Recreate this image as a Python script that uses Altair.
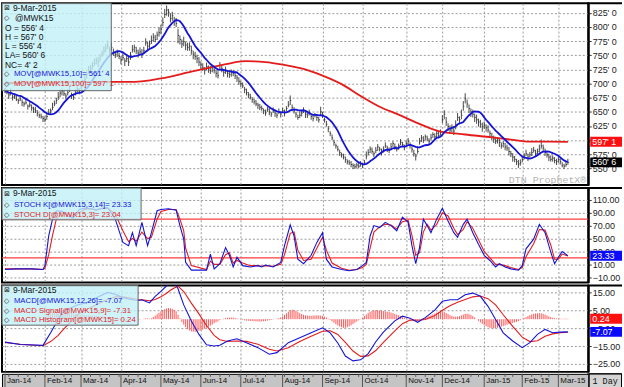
import altair as alt
import pandas as pd

FONT = "Liberation Sans"
MONO = "Liberation Mono"

# ---------------- trading calendar ----------------
holidays = ["2014-01-20", "2014-02-17", "2014-04-18", "2014-05-26", "2014-07-04",
            "2014-09-01", "2014-11-27", "2014-12-25", "2015-01-01", "2015-01-19",
            "2015-02-16"]
dates = [d for d in pd.bdate_range("2014-01-02", "2015-03-09")
         if d.strftime("%Y-%m-%d") not in holidays]

month_labels = ["Jan-14", "Feb-14", "Mar-14", "Apr-14", "May-14", "Jun-14", "Jul-14",
                "Aug-14", "Sep-14", "Oct-14", "Nov-14", "Dec-14", "Jan-15", "Feb-15",
                "Mar-15"]

# ---------------- daily price bars (cents/bu) ----------------
close = [
    688, 684, 680, 683, 676, 678, 672, 670, 673, 667, 664, 666, 660, 662, 657, 655, 652, 648, 644, 641, 638,
    636, 642, 648, 652, 658, 664, 670, 676, 683, 687, 682, 678, 684, 688, 680, 676, 683, 690, 686,
    694, 700, 708, 716, 722, 727, 731, 736, 741, 738, 745, 752, 758, 763, 767, 760, 764, 756, 751, 755, 748,
    742, 746, 740, 744, 738, 750, 760, 764, 758, 754, 756, 752, 758, 772, 766, 770, 776, 782, 778, 786, 790,
    796, 808, 822, 830, 826, 815, 820, 810, 806, 785, 778, 770, 774, 768, 764, 766, 758, 752, 748, 744, 738,
    733, 728, 724, 730, 726, 722, 728, 724, 718, 714, 732, 726, 720, 722, 718, 716, 720, 718, 714, 710, 704,
    700, 696, 690, 684, 680, 676, 672, 668, 664, 662, 658, 656, 652, 648, 654, 650, 646, 652, 648, 644, 650, 646,
    652, 648, 656, 662, 670, 658, 652, 646, 640, 644, 648, 652, 646, 644, 648, 642, 638, 644, 640, 636, 650,
    645, 636, 628, 620, 612, 604, 596, 590, 584, 578, 574, 570, 566, 562, 560, 557, 555, 553, 556, 554, 558,
    556, 560, 572, 578, 584, 580, 576, 582, 588, 584, 578, 584, 590, 586, 582, 588, 594, 588, 584, 590, 596, 592, 588,
    594, 598, 592, 584, 576, 572, 580, 598, 604, 600, 606, 602, 598, 604, 610, 606, 612, 608, 614,
    636, 646, 632, 624, 618, 622, 616, 628, 640, 636, 644, 660, 674, 664, 656, 650, 646, 640, 636, 632, 628, 624,
    626, 622, 618, 612, 606, 602, 598, 600, 596, 590, 594, 588, 586, 580, 576, 570, 566, 562, 558, 560,
    566, 572, 576, 570, 574, 578, 582, 576, 580, 584, 590, 586, 578, 574, 570, 566, 568, 564, 562,
    566, 562, 556, 554, 557, 560.75,
]
up = [
    4, 6, 3, 8, 5, 4, 7, 3, 6, 5, 4, 8, 3, 5, 6, 4, 7, 5, 3, 6, 5,
    6, 5, 7, 4, 8, 6, 5, 9, 6, 4, 7, 5, 6, 8, 4, 6, 7, 5, 6,
    7, 6, 8, 5, 9, 6, 7, 8, 5, 9, 7, 6, 8, 7, 9, 5, 8, 6, 7, 5, 6,
    6, 8, 5, 7, 9, 6, 8, 5, 7, 6, 8, 9, 7, 8, 8, 6, 9, 7, 8, 6, 9,
    8, 9, 10, 8, 6, 9, 7, 8, 10, 12, 7, 8, 9, 6, 8, 7, 9, 6, 8, 7, 9,
    6, 8, 5, 7, 6, 9, 5, 7, 6, 8, 6, 7, 5, 8, 6, 7, 5, 6, 8, 5, 7,
    5, 6, 4, 7, 5, 6, 4, 5, 7, 4, 6, 5, 4, 6, 5, 7, 4, 6, 5, 4, 6, 5,
    5, 6, 4, 7, 9, 5, 6, 4, 5, 7, 4, 6, 5, 4, 6, 5, 7, 4, 6, 5, 9,
    5, 4, 6, 5, 4, 6, 5, 4, 6, 5, 4, 6, 5, 4, 5, 6, 4, 5, 4, 6, 5,
    4, 5, 8, 6, 5, 7, 4, 6, 5, 4, 7, 5, 6, 4, 5, 7, 4, 6, 5, 4, 6, 5, 4,
    5, 6, 4, 5, 7, 4, 9, 6, 5, 7, 4, 6, 5, 7, 4, 6, 5, 7, 5,
    8, 7, 9, 6, 8, 6, 9, 7, 8, 6, 10, 9, 9, 8, 7, 6, 8, 7, 9, 6, 8, 7,
    7, 6, 8, 5, 7, 6, 8, 5, 7, 6, 5, 7, 6, 8, 5, 7, 6, 5, 7, 6,
    6, 5, 7, 6, 5, 8, 6, 7, 5, 8, 11, 6, 7, 5, 6, 7, 5, 6, 5,
    5, 6, 5, 4, 6, 6.25,
]
dn = [
    5, 3, 7, 4, 6, 5, 3, 6, 4, 7, 5, 3, 6, 4, 5, 7, 4, 6, 5, 3, 6,
    4, 6, 3, 7, 5, 4, 6, 5, 7, 8, 4, 6, 5, 3, 7, 5, 4, 6, 5,
    5, 6, 4, 7, 5, 8, 6, 5, 7, 9, 6, 5, 7, 8, 6, 9, 5, 7, 6, 8, 5,
    8, 5, 9, 6, 7, 8, 5, 9, 6, 8, 5, 7, 6, 5, 9, 7, 6, 8, 5, 9, 7,
    9, 7, 6, 10, 8, 7, 9, 8, 6, 14, 9, 7, 8, 9, 6, 8, 7, 9, 6, 8, 7,
    7, 5, 8, 6, 7, 5, 8, 6, 7, 5, 9, 6, 8, 5, 7, 6, 8, 5, 6, 7, 6,
    6, 4, 7, 5, 6, 4, 6, 5, 4, 7, 5, 4, 6, 5, 4, 6, 5, 4, 7, 5, 4, 6,
    4, 6, 5, 4, 8, 7, 5, 6, 4, 5, 6, 4, 7, 5, 4, 6, 5, 4, 6, 5, 7,
    6, 5, 4, 6, 5, 4, 6, 5, 4, 6, 5, 4, 6, 5, 4, 5, 6, 4, 5, 4, 5,
    5, 4, 6, 5, 7, 4, 6, 5, 7, 4, 5, 6, 4, 7, 5, 4, 6, 5, 4, 7, 5, 4, 6,
    4, 5, 7, 6, 5, 8, 4, 6, 7, 5, 6, 4, 7, 5, 6, 4, 7, 5, 6,
    6, 9, 7, 8, 6, 8, 7, 9, 6, 8, 7, 8, 9, 7, 8, 9, 6, 8, 7, 8, 6, 9,
    6, 7, 5, 8, 6, 7, 5, 6, 8, 5, 7, 6, 5, 7, 6, 8, 5, 6, 7, 5,
    5, 6, 4, 7, 5, 6, 4, 5, 7, 6, 5, 7, 6, 5, 7, 4, 6, 5, 6,
    6, 5, 4, 5, 4, 4.25,
]

# 100-day moving average
ma100_idx = [0, 28, 51, 68, 82, 98, 110, 117, 126, 137, 147, 157, 167, 177, 187, 197,
             207, 217, 228, 242, 256, 266, 276, 286, 296]
ma100_val = [701, 702, 703, 703, 709, 721, 730, 735, 739.5, 738, 733, 726, 714, 699, 678,
             659, 645, 630, 616, 610, 605, 601, 597.5, 597.5, 597.125]

# ---------------- stochastic ----------------
stoch_idx = [0, 6, 14, 20, 21, 23, 25, 27, 30, 33, 36, 39, 42, 45, 48, 51, 54, 58, 62, 65,
             67, 69, 72, 75, 77, 80, 82, 86, 90, 92, 94, 95, 98, 106, 108, 110, 113, 116, 118, 120,
             122, 125, 129, 133, 135, 137, 141, 145, 147, 150, 152, 154, 157, 161, 164, 167, 169, 172, 177, 181,
             185, 188, 190, 192, 194, 197, 200, 203, 206, 209, 212, 214, 216, 218, 220, 222, 224, 227, 230, 233,
             236, 238, 241, 243, 246, 249, 252, 255, 258, 260, 263, 266, 270, 272, 274, 278, 281, 284, 287, 289,
             291, 293, 296]
stoch_k = [2, 3, 3, 2, 8, 54, 80, 93, 92, 85, 82, 95, 97, 96, 94, 97, 98, 80, 44, 39,
           59, 39, 75, 39, 59, 93, 95, 96, 94, 70, 49, 13, 1, 1, 26, 3, 11, 36, 24, 6,
           21, 8, 6, 8, 6, 9, 6, 13, 39, 71, 54, 18, 11, 24, 44, 59, 18, 6, 2, 0,
           2, 8, 13, 54, 70, 67, 75, 70, 62, 83, 75, 39, 11, 36, 80, 70, 59, 80, 97, 77,
           59, 52, 72, 80, 59, 41, 24, 16, 6, 11, 6, 3, 1, 8, 34, 49, 72, 59, 29, 11,
           21, 30, 23.33]
stoch_d = [3, 3, 3, 2, 4, 25, 55, 80, 90, 88, 84, 90, 95, 96, 95, 96, 97, 88, 62, 45,
           50, 46, 60, 50, 52, 80, 92, 95, 95, 80, 62, 35, 8, 2, 15, 10, 10, 25, 28, 12,
           16, 12, 8, 8, 7, 8, 7, 10, 25, 58, 60, 32, 16, 18, 35, 52, 32, 12, 4, 1,
           2, 5, 10, 35, 60, 68, 72, 71, 65, 76, 78, 55, 24, 28, 60, 72, 63, 72, 90, 85,
           66, 56, 64, 76, 66, 48, 30, 20, 10, 10, 8, 5, 2, 5, 22, 42, 64, 63, 40, 18,
           18, 26, 23.04]

# ---------------- MACD ----------------
macd_idx = [0, 8, 20, 24, 28, 30, 34, 38, 42, 46, 50, 54, 58, 62, 66, 70, 72, 76, 79, 82,
            85, 87, 89, 91, 94, 98, 102, 106, 110, 113, 117, 122, 127, 133, 139, 143, 149, 155, 161, 167,
            171, 175, 179, 183, 187, 191, 195, 199, 205, 209, 213, 217, 221, 226, 230, 234, 238, 242, 246, 250,
            254, 258, 262, 267, 272, 276, 280, 284, 288, 292, 296]
macd_val = [-12.8, -14.1, -14.6, -7.6, -0.2, 3.5, 6, 8, 9, 11, 13, 15, 14, 12, 11, 10.5, 10.9, 9.1, 12.8, 15.6,
            18.7, 20.2, 21, 17, 8, -1, -8.5, -14.3, -15, -14.6, -12.2, -10.9, -13.1, -15.9, -19.6, -18.7, -13.1, -10.4, -7.6, -4.8,
            -7.6, -13.3, -20.6, -23.3, -22.7, -19.2, -12.6, -7.2, -0.9, 1.7, 0.6, -1.7, 0.9, 5.1, 10, 10.9, 10.9, 13.7, 14.6, 12.8,
            7.2, -0.2, -7.6, -12.2, -15.9, -13.1, -8.5, -5.7, -7.6, -7.2, -7.07]
signal_val = [-13, -14, -14.8, -12.5, -9, -6.5, -2, 2.5, 5, 7, 9, 11, 12.5, 12.5, 11.8, 11, 10.8, 10.3, 11, 12.5,
              14.5, 16.2, 17.5, 18.5, 15.5, 9, 3, -3.5, -9, -11.5, -12.5, -12.2, -12.4, -14, -16.8, -17.8, -16, -12.5, -9.5, -6.7,
              -6.5, -8.5, -13, -17.8, -20.8, -20.5, -17.5, -13, -6.5, -2.5, -0.5, -0.6, -0.2, 2, 5, 7.5, 9.5, 11, 12.5, 13,
              11.5, 8, 2.5, -4, -10, -12.5, -12, -9.5, -8.2, -7.5, -7.31]
hist = [
    0.3, 0.2, 0.1, 0.2, 0.1, 0.0, -0.1, 0.0, 0.1, 0.0, -0.2, -0.1, 0.0, -0.2, -0.1, -0.3, -0.2, -0.1, 0.0, 0.2, 0.6,
    1.2, 1.9, 2.7, 3.4, 4.0, 4.6, 5.0, 5.2, 5.3, 5.1, 4.8, 4.5, 4.3, 4.0, 3.6, 3.2, 3.0, 2.8, 2.6,
    2.5, 2.4, 2.3, 2.3, 2.2, 2.2, 2.1, 2.0, 2.0, 1.9, 1.8, 1.6, 1.5, 1.3, 1.1, 0.8, 0.5, 0.2, 0.0, -0.3, -0.5,
    -0.7, -0.8, -0.8, -0.7, -0.6, -0.5, -0.3, -0.2, 0.0, -0.1, -0.2, 0.0, 0.2, 0.5, 0.4, 0.2, 0.5, 1.2, 2.0, 2.8, 3.6,
    4.3, 5.0, 5.6, 6.0, 6.2, 6.1, 5.8, 5.2, 4.4, 2.5, 0.5, -1.5, -3.0, -4.4, -5.5, -6.3, -6.8, -7.0, -7.0, -6.8, -6.5,
    -6.2, -5.8, -5.3, -4.8, -4.2, -3.6, -3.0, -2.3, -1.7, -1.2, -0.5, 0.0, 0.3, 0.6, 0.8, 0.9, 1.0, 0.9, 0.7, 0.4, 0.1,
    -0.2, -0.4, -0.6, -0.8, -0.9, -1.0, -1.0, -1.1, -1.2, -1.2, -1.3, -1.2, -1.1, -1.0, -0.8, -0.6, -0.4, -0.2, 0.0, 0.3, 0.6, 1.0,
    1.6, 2.4, 3.3, 4.2, 5.0, 5.3, 5.1, 4.6, 4.0, 3.4, 2.9, 2.5, 2.2, 2.0, 1.9, 1.9, 2.0, 2.1, 2.2, 2.1, 2.0,
    1.8, 1.4, 0.9, 0.3, -0.4, -1.2, -2.0, -2.8, -3.5, -4.1, -4.5, -4.8, -4.8, -4.5, -4.0, -3.4, -2.7, -2.0, -1.3, -0.6, 0.1,
    0.9, 1.8, 2.7, 3.5, 4.1, 4.6, 4.9, 5.0, 5.0, 4.9, 4.8, 4.6, 4.4, 4.2, 4.0, 3.7, 3.4, 3.0, 2.6, 2.2, 1.7, 1.2, 0.8,
    0.4, 0.1, -0.2, -0.4, -0.6, -0.7, -0.5, -0.2, 0.2, 0.6, 1.0, 1.4, 1.8, 2.2, 2.7, 3.2, 3.7, 4.1, 4.3,
    4.3, 4.0, 3.5, 2.9, 2.3, 1.8, 1.5, 1.4, 1.5, 1.7, 2.1, 2.6, 3.0, 3.1, 2.9, 2.4, 1.7, 0.9, 0.0, -0.9, -1.8, -2.6,
    -3.3, -3.9, -4.4, -4.8, -5.0, -5.1, -5.0, -4.8, -4.5, -4.2, -3.9, -3.5, -3.1, -2.7, -2.4, -2.1, -1.8, -1.5, -1.1, -0.6,
    0.0, 0.6, 1.2, 1.8, 2.3, 2.7, 3.0, 3.2, 3.3, 3.4, 3.3, 3.0, 2.6, 2.1, 1.6, 1.2, 0.8, 0.6, 0.4,
    0.3, 0.2, 0.2, 0.3, 0.3, 0.24,
]

n = len(dates)
assert len(close) == n and len(up) == n and len(dn) == n and len(hist) == n, (n, len(close), len(up), len(dn), len(hist))

# ---------------- frames ----------------
df = pd.DataFrame({
    "i": list(range(n)),
    "close": close,
    "high": [c + u for c, u in zip(close, up)],
    "low": [c - d for c, d in zip(close, dn)],
    "hist": hist,
})
df["i2"] = df["i"] + 0.55
df["ma10"] = df["close"].rolling(10, min_periods=1).mean()

ma100_df = pd.DataFrame({"i": ma100_idx, "ma100": ma100_val})
stoch_df = pd.DataFrame({"i": stoch_idx, "k": stoch_k, "d": stoch_d})
macd_df = pd.DataFrame({"i": macd_idx, "macd": macd_val, "sig": signal_val})

month_start = [k for k in range(n) if k == 0 or dates[k].month != dates[k - 1].month]
ms_df = pd.DataFrame({"i": month_start, "label": month_labels[:len(month_start)]})
week_start = [k for k in range(1, n) if dates[k].weekday() < dates[k - 1].weekday()]
wk_df = pd.DataFrame({"i": week_start})
one = pd.DataFrame({"a": [0]})

def frac8(v):
    w = int(v)
    return f"{w}' {int(round((v - w) * 8))}"

last_open, last_high, last_low, last_close = 556.5, df["high"].iloc[-1], df["low"].iloc[-1], close[-1]
net_change = 4.25
mov10 = 561.5
mov100 = ma100_val[-1]

# ---------------- scales / axes ----------------
W = 590
xs = alt.Scale(domain=[-1.57, 306.7], nice=False, zero=False)
xax = alt.Axis(values=month_start, grid=True, gridColor="#9a9a9a", gridDash=[2, 2],
               labels=False, ticks=False, domain=False, title=None, minExtent=0, maxExtent=0)
X = alt.X("i:Q", scale=xs, axis=xax)
X2 = alt.X("i:Q", scale=xs, axis=None)

def yaxis(values, expr=None, fmt=None):
    kw = dict(orient="right", values=values, grid=True, gridColor="#9a9a9a", gridDash=[2, 2],
              title=None, tickSize=3, tickColor="#333", labelFont=FONT, labelFontSize=9,
              labelColor="#222", labelPadding=1, domain=True, domainColor="#000",
              domainWidth=2, zindex=0, minExtent=30)
    if expr:
        kw["labelExpr"] = expr
    if fmt:
        kw["format"] = fmt
    return alt.Axis(**kw)

BLUE = "#1414d6"
RED = "#e41c1c"
CYAN = "#c2f0f7"

def legend(box_w, box_h, lines):
    layers = [alt.Chart(one).mark_rect(fill=CYAN, fillOpacity=0.8, stroke="#666", strokeWidth=1)
              .encode(x=alt.value(0), x2=alt.value(box_w), y=alt.value(0), y2=alt.value(box_h))]
    for icon, txt, col, ypx, xt, fs in lines:
        if icon:
            layers.append(alt.Chart(one).mark_text(align="left", baseline="middle", fontSize=7,
                                                   font="DejaVu Sans", color="#222")
                          .encode(x=alt.value(2), y=alt.value(ypx), text=alt.value(icon)))
        layers.append(alt.Chart(one).mark_text(align="left", baseline="middle", fontSize=fs,
                                               font=FONT, color=col)
                      .encode(x=alt.value(xt), y=alt.value(ypx), text=alt.value(txt)))
    return layers

def side_boxes(frame, Yf):
    t = alt.Chart(frame).mark_tick(orient="horizontal", size=32, thickness=10, opacity=1)\
        .encode(x=alt.value(608), y=Yf, color=alt.Color("fill:N", scale=None), yOffset="dy:Q")
    tx = alt.Chart(frame).mark_text(align="left", baseline="middle", fontSize=9, font=FONT, color="#fff")\
        .encode(x=alt.value(594), y=Yf, text="lab:N", yOffset="dy:Q")
    return [t, tx]

def top_sep(width=2):
    # dark separator continuing across the right-hand axis strip
    return alt.Chart(one).mark_rule(color="#000", strokeWidth=width).encode(
        x=alt.value(589), x2=alt.value(624), y=alt.value(0))

VIEW = alt.ViewBackground(stroke="#000", strokeWidth=2)

# ---------------- price panel ----------------
yp = alt.Scale(domain=[520.6, 842.0], nice=False, zero=False)
ypax = yaxis(list(range(550, 826, 25)),
             expr="datum.value == 600 ? '' : datum.value + \"' 0\"")
def Yp(f):
    return alt.Y(f"{f}:Q", scale=yp, axis=ypax)

bars = alt.Chart(df).mark_rule(color="#2a2a2a", strokeWidth=0.85, clip=True).encode(x=X, y=Yp("low"), y2="high:Q")
cticks = alt.Chart(df).mark_rule(color="#2a2a2a", strokeWidth=0.85, clip=True).encode(x=X, x2="i2:Q", y=Yp("close"))
l100 = alt.Chart(ma100_df).mark_line(color=RED, strokeWidth=1.8, clip=True, interpolate="monotone").encode(x=X, y=Yp("ma100"))
l10 = alt.Chart(df).mark_line(color=BLUE, strokeWidth=1.8, clip=True).encode(x=X, y=Yp("ma10"))

plines = [
    ("\u22a0", "9-Mar-2015", "#111", 5, 11, 8.5),
    ("\u25c7", "@MWK15", "#111", 15, 13, 8.5),
    ("", f"O = {frac8(last_open)}", "#111", 24.5, 3, 8.5),
    ("", f"H = {frac8(last_high)}", "#111", 33.5, 3, 8.5),
    ("", f"L = {frac8(last_low)}", "#111", 43, 3, 8.5),
    ("", f"LA= {frac8(last_close)}", "#111", 52.5, 3, 8.5),
    ("", f"NC= {frac8(net_change)}", "#111", 62, 3, 8.5),
    ("\u25c7", f"MOV[@MWK15,10]= {frac8(mov10)}", BLUE, 71.5, 12, 7.8),
    ("\u25c7", f"MOV[@MWK15,100]= {frac8(mov100)}", RED, 81, 12, 7.8),
]
pbox = pd.DataFrame({"v": [mov100, last_close], "lab": [frac8(mov100), frac8(last_close)],
                     "fill": ["#ff1010", "#000000"], "dy": [0, 0]})
watermark = alt.Chart(one).mark_text(align="right", baseline="middle", fontSize=10, font=MONO,
                                     color="#b4b4b4").encode(x=alt.value(588), y=alt.value(178),
                                                            text=alt.value("DTN  ProphetX\u00ae"))

price = alt.layer(bars, cticks, l100, l10, *legend(110, 88, plines), *side_boxes(pbox, Yp("v")),
                  watermark, top_sep()).properties(width=W, height=183, view=VIEW)

# ---------------- stochastic panel ----------------
ys = alt.Scale(domain=[-18.0, 128.15], nice=False, zero=False)
ysax = yaxis([-10, 10, 30, 50, 70, 90, 110], fmt=".2f")
def Ys(f):
    return alt.Y(f"{f}:Q", scale=ys, axis=ysax)

levels = alt.Chart(pd.DataFrame({"lvl": [80, 20]})).mark_rule(color="#ff3c3c", strokeWidth=1.2).encode(y=Ys("lvl"))
kline = alt.Chart(stoch_df).mark_line(color=BLUE, strokeWidth=1.1, clip=True).encode(x=X, y=Ys("k"))
dline = alt.Chart(stoch_df).mark_line(color=RED, strokeWidth=1.1, clip=True).encode(x=X, y=Ys("d"))
slines = [
    ("\u22a0", "9-Mar-2015", "#111", 5.5, 11, 8.5),
    ("\u25c7", "STOCH K[@MWK15,3,14]= 23.33", BLUE, 17.5, 12, 7.8),
    ("\u25c7", "STOCH D[@MWK15,3]= 23.04", RED, 27.5, 12, 7.8),
]
sbox = pd.DataFrame({"v": [stoch_k[-1]], "lab": ["23.33"], "fill": ["#0a0aff"], "dy": [0]})
stoch = alt.layer(levels, dline, kline, *legend(140, 32, slines), *side_boxes(sbox, Ys("v")),
                  top_sep()).properties(width=W, height=95, view=VIEW)

# ---------------- MACD panel ----------------
ym = alt.Scale(domain=[-29.44, 18.89], nice=False, zero=False)
ymax = yaxis([-25, -15, -5, 5, 15], fmt=".2f")
def Ym(f):
    return alt.Y(f"{f}:Q", scale=ym, axis=ymax)

hbars = alt.Chart(df).mark_rule(color="#ff5a5a", strokeWidth=1, clip=True).encode(x=X, y=Ym("hist"), y2=alt.datum(0))
mline = alt.Chart(macd_df).mark_line(color=BLUE, strokeWidth=1.1, clip=True).encode(x=X, y=Ym("macd"))
sgline = alt.Chart(macd_df).mark_line(color=RED, strokeWidth=1.1, clip=True).encode(x=X, y=Ym("sig"))
mlines = [
    ("\u22a0", "9-Mar-2015", "#111", 5, 11, 8.5),
    ("\u25c7", "MACD[@MWK15,12,26]= -7.07", BLUE, 15.5, 12, 7.8),
    ("\u25c7", "MACD Signal[@MWK15,9]= -7.31", RED, 25.5, 12, 7.8),
    ("\u25c7", "MACD Histogram[@MWK15]= 0.24", RED, 35, 12, 7.8),
]
mbox = pd.DataFrame({"v": [hist[-1], macd_val[-1]], "lab": ["0.24", "-7.07"],
                     "fill": ["#ff1010", "#0a0aff"], "dy": [0, -7]})
macd = alt.layer(hbars, sgline, mline, *legend(137, 40, mlines), *side_boxes(mbox, Ym("v")),
                 top_sep()).properties(width=W, height=87, view=VIEW)

# ---------------- date band ----------------
sep = alt.Chart(ms_df).mark_rule(color="#555", strokeWidth=1).encode(x=X2, y=alt.value(0), y2=alt.value(15))
minor = alt.Chart(wk_df).mark_rule(color="#555", strokeWidth=1).encode(x=X2, y=alt.value(0), y2=alt.value(3))
mtext = alt.Chart(ms_df).mark_text(align="left", baseline="middle", dx=2, fontSize=8, font=FONT,
                                   color="#111").encode(x=X2, y=alt.value(7.5), text="label:N")
daybox = alt.Chart(one).mark_rect(fill="#d4d4d4", stroke="#000", strokeWidth=1).encode(
    x=alt.value(591), x2=alt.value(623.5), y=alt.value(0), y2=alt.value(14.5))
daytxt = alt.Chart(one).mark_text(align="center", baseline="middle", fontSize=8.5, font=MONO,
                                  color="#111").encode(x=alt.value(607), y=alt.value(7), text=alt.value("1 Day"))
band = alt.layer(sep, minor, mtext, daybox, daytxt, top_sep(1)).properties(
    width=W, height=15, view=alt.ViewBackground(fill="#c4c4c4", stroke="#000", strokeWidth=1))

chart = alt.vconcat(price, stoch, macd, band, spacing=0).properties(padding=0).configure(font=FONT)

chart.save("out.html", embed_options={"renderer": "svg", "actions": False})
